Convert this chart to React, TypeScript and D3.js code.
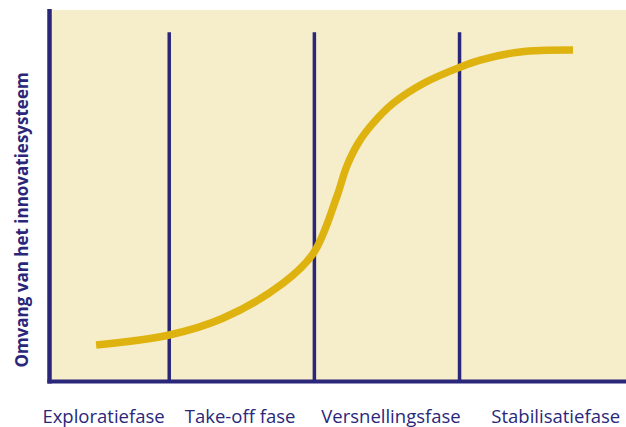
import React, { useEffect, useRef } from "react";
import * as d3 from "d3";

// S-curve of innovation system size (x: time in arbitrary units 0-100, y: size 0-100)
const curveX = [8.0, 20.7, 30.0, 40.5, 45.8, 49.8, 51.5, 53.5, 56.1, 59.6, 64.8, 71.2, 74.7, 81.6, 90.8];
const curveY = [9.7, 12.4, 16.9, 26.4, 34.6, 49.7, 57.8, 64.1, 69.5, 74.9, 80.2, 84.6, 86.5, 88.7, 89.2];

// phase boundaries and labels
const phaseBounds = [20.7, 45.9, 71.1];
const phaseLabels = ["Exploratiefase", "Take-off fase", "Versnellingsfase", "Stabilisatiefase"];
const phaseLabelX = [9.3, 33.0, 59.2, 87.8];

const yLabel = "Omvang van het innovatiesysteem";

const W = 626;
const H = 427;

const App: React.FC = () => {
  const svgRef = useRef<SVGSVGElement>(null);

  useEffect(() => {
    if (!svgRef.current) return;
    const svg = d3.select(svgRef.current);
    svg.selectAll("*").remove();

    const navy = "#2a277a";
    const gold = "#dfb30f";
    const beige = "#f6edcb";
    const font = "'Open Sans', 'Noto Sans', sans-serif";

    const x = d3.scaleLinear().domain([0, 100]).range([50, 626]);
    const y = d3.scaleLinear().domain([0, 100]).range([381, 10]);

    // background panel
    svg
      .append("rect")
      .attr("x", x(0))
      .attr("y", y(100))
      .attr("width", x(100) - x(0))
      .attr("height", y(0) - y(100))
      .attr("fill", beige);

    // phase boundary lines
    svg
      .append("g")
      .selectAll("line")
      .data(phaseBounds)
      .enter()
      .append("line")
      .attr("x1", (d) => x(d))
      .attr("x2", (d) => x(d))
      .attr("y1", y(94))
      .attr("y2", y(0))
      .attr("stroke", navy)
      .attr("stroke-width", 3.5);

    // axes
    svg
      .append("line")
      .attr("x1", x(0) - 0.5)
      .attr("x2", x(0) - 0.5)
      .attr("y1", y(100) - 1)
      .attr("y2", y(0) + 2.5)
      .attr("stroke", navy)
      .attr("stroke-width", 4.5);
    svg
      .append("line")
      .attr("x1", x(0) - 2.5)
      .attr("x2", x(100))
      .attr("y1", y(0) + 0.5)
      .attr("y2", y(0) + 0.5)
      .attr("stroke", navy)
      .attr("stroke-width", 4);

    // S-curve
    const pts = curveX.map((d, i) => [d, curveY[i]] as [number, number]);
    const line = d3
      .line<[number, number]>()
      .x((d) => x(d[0]))
      .y((d) => y(d[1]))
      .curve(d3.curveCatmullRom.alpha(0.5));
    svg
      .append("path")
      .attr("d", line(pts))
      .attr("fill", "none")
      .attr("stroke", gold)
      .attr("stroke-width", 7.5);

    // phase labels
    svg
      .append("g")
      .selectAll("text")
      .data(phaseLabels)
      .enter()
      .append("text")
      .attr("x", (_, i) => x(phaseLabelX[i]))
      .attr("y", 422.5)
      .attr("text-anchor", "middle")
      .attr("fill", navy)
      .attr("font-family", font)
      .attr("font-size", "18.5px")
      .text((d) => d);

    // y label
    svg
      .append("text")
      .attr("transform", `translate(28, 220) rotate(-90)`)
      .attr("text-anchor", "middle")
      .attr("fill", navy)
      .attr("font-family", font)
      .attr("font-weight", "bold")
      .attr("font-size", "17px")
      .text(yLabel);
  }, []);

  return (
    <svg
      ref={svgRef}
      width={W}
      height={H}
      style={{ position: "absolute", left: 0, top: 0, background: "#fff" }}
    />
  );
};

export default App;
